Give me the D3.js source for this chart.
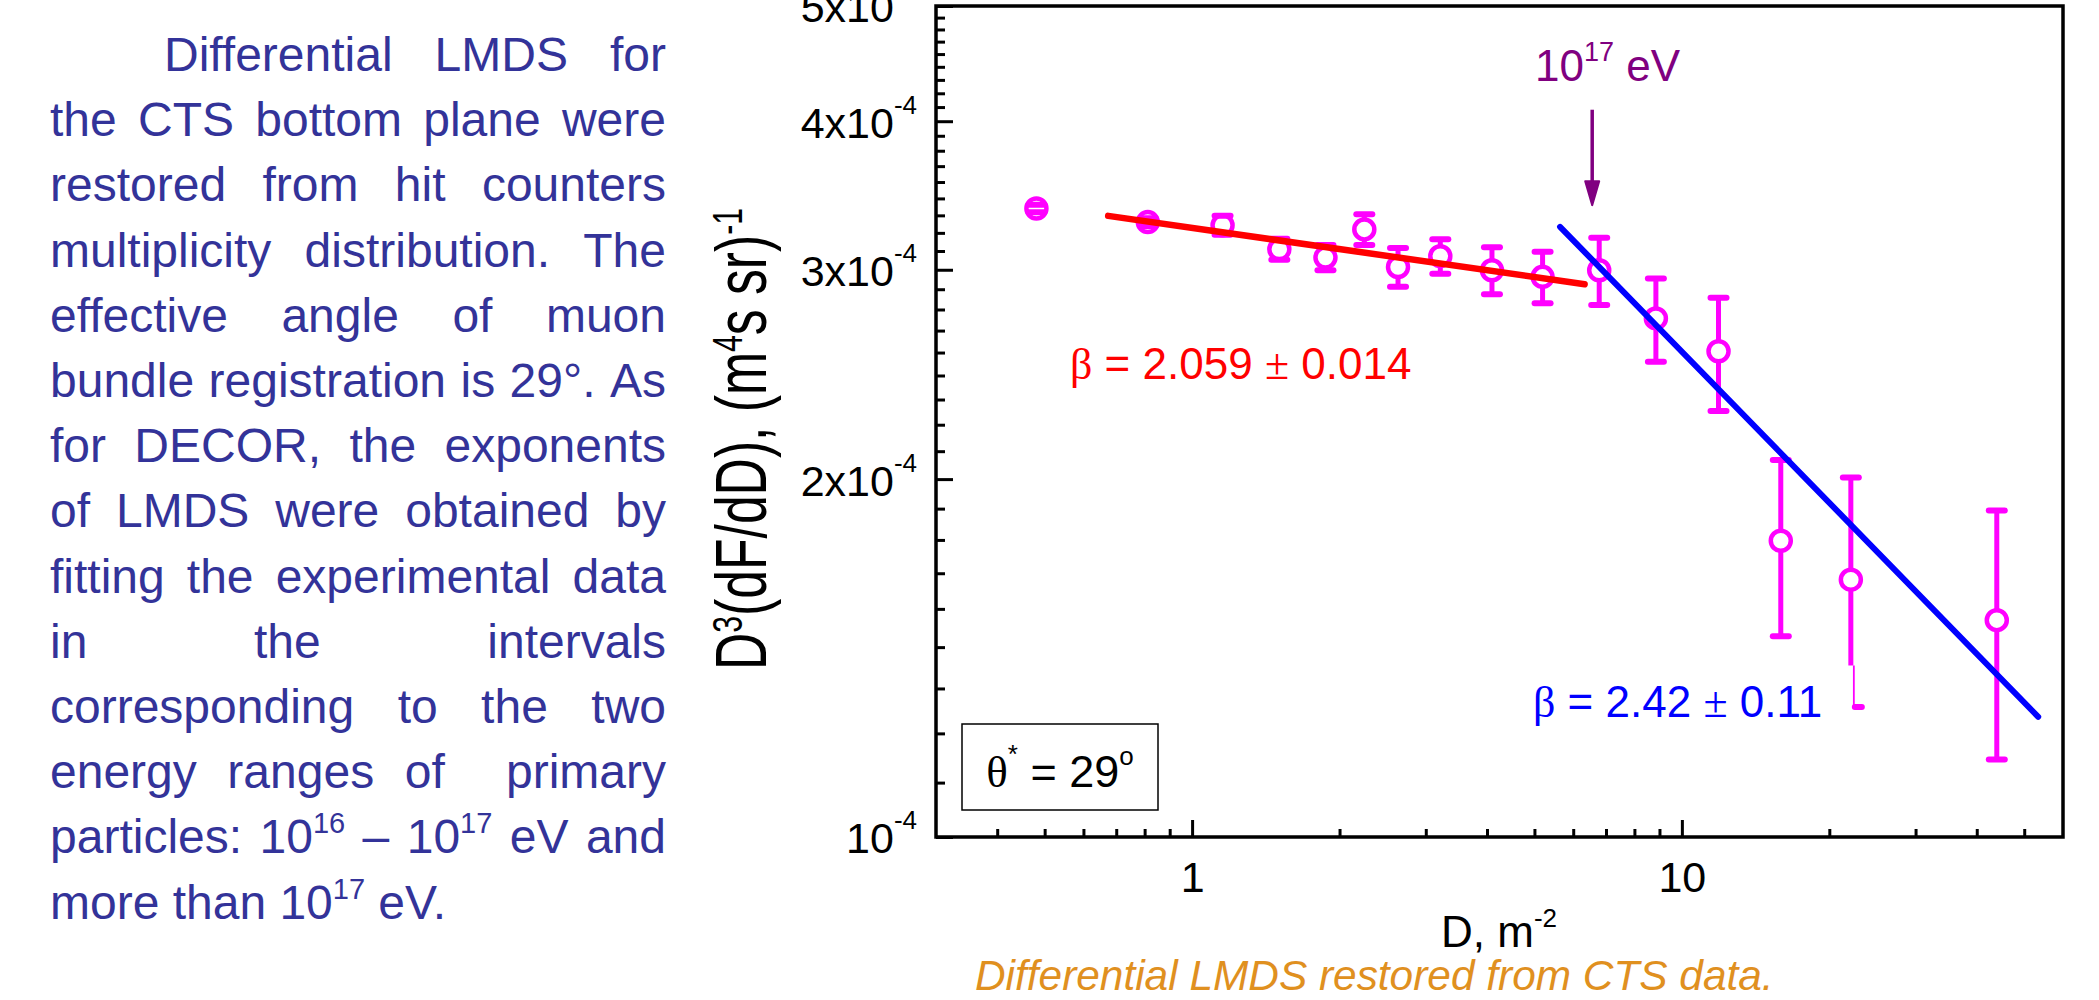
<!DOCTYPE html>
<html>
<head>
<meta charset="utf-8">
<script src="https://d3js.org/d3.v7.min.js"></script>
<style>
  body { margin: 0; background: #fff; }
  svg { display: block; font-family: "Liberation Sans", Arial, sans-serif; }
</style>
</head>
<body>
<svg id="chart" width="2099" height="1000"></svg>
<script>
// bin centres, D in m^-2
const densities = [0.481, 0.812, 1.154, 1.507, 1.872, 2.247, 2.633, 3.212, 4.095, 5.195, 6.78, 8.85, 11.88, 15.92, 22.13, 43.95];
// D^3 dF/dD, (m^4 s sr)^-1
const spectrum = [3.378e-4, 3.29e-4, 3.27e-4, 3.122e-4, 3.072e-4, 3.244e-4, 3.016e-4, 3.08e-4, 2.997e-4, 2.959e-4, 2.997e-4, 2.73e-4, 2.562e-4, 1.775e-4, 1.646e-4, 1.522e-4];
const spectrumErr = [0.025e-4, 0.025e-4, 0.06e-4, 0.064e-4, 0.075e-4, 0.096e-4, 0.113e-4, 0.103e-4, 0.136e-4, 0.147e-4, 0.195e-4, 0.22e-4, 0.28e-4, 0.30e-4, 0.36e-4, 0.36e-4];

// fitted power laws, end points [D, value]
const fitLow = [[0.674, 3.33e-4], [6.33, 2.917e-4]];
const fitHigh = [[5.64, 3.26e-4], [53.4, 1.262e-4]];

// 10^17 eV marker
const kneeD = 6.56;
const kneeArrow = [4.09e-4, 3.40e-4];

// the lower bar of one point is drawn broken in the original
const brokenBar = {index: 14, thickTo: 1.394e-4};

const xDomain = [0.3, 60];
const yDomain = [1e-4, 5e-4];
const xMajorTicks = [1, 10];
const xTickLabels = ['1', '10'];
const xMinorTicks = [0.4, 0.5, 0.6, 0.7, 0.8, 0.9, 2, 3, 4, 5, 6, 7, 8, 9, 20, 30, 40, 50];
const yTicks = [1e-4, 2e-4, 3e-4, 4e-4, 5e-4];
const yTickLabels = [['10', '-4'], ['2x10', '-4'], ['3x10', '-4'], ['4x10', '-4'], ['5x10', '-4']];

const paragraphLines = [
  'Differential LMDS for',
  'the CTS bottom plane were',
  'restored from hit counters',
  'multiplicity distribution. The',
  'effective angle of muon',
  'bundle registration is 29°. As',
  'for DECOR, the exponents',
  'of LMDS were obtained by',
  'fitting the experimental data',
  'in the intervals',
  'corresponding to the two',
  'energy ranges of  primary',
  'particles: 10^{16} – 10^{17} eV and',
  'more than 10^{17} eV.'
];

const MAGENTA = '#ff00ff', RED = '#ff0000', BLUE = '#0000ff', PURPLE = '#800080';
const W = 2099, H = 1000;
const plot = {left: 936, right: 2063, top: 6, bottom: 837};

const svg = d3.select('#chart');
svg.append('rect').attr('width', W).attr('height', H).attr('fill', '#fff');

const x = d3.scaleLog().domain(xDomain).range([plot.left, plot.right]);
const y = d3.scaleLog().domain(yDomain).range([plot.bottom, plot.top]);

// text with ^{...} superscripts
function richText(g, str, supSize, supShift) {
  const t = g.append('text');
  let raised = false;
  str.split(/(\^\{[^}]*\})/).forEach(p => {
    if (!p) return;
    if (p.startsWith('^{')) {
      t.append('tspan').attr('font-size', supSize).attr('dy', -supShift).text(p.slice(2, -1));
      raised = true;
    } else {
      const s = t.append('tspan').text(p);
      if (raised) { s.attr('dy', supShift); raised = false; }
    }
  });
  return t;
}

// ---- left paragraph, justified
const para = svg.append('g').attr('fill', '#333399').attr('font-size', 48);
const paraLeft = 50, paraRight = 666, paraIndent = 164;
paragraphLines.forEach((line, li) => {
  const baseY = 71 + li * 65.2;
  const words = [];
  let pending = 0;
  line.split(' ').forEach((tk, k) => {
    if (k > 0) pending++;
    if (tk === '') return;
    words.push({tk, sp: pending});
    pending = 0;
  });
  words.forEach(w => {
    w.el = richText(para, w.tk, 29, 20).attr('y', baseY);
    w.width = w.el.node().getComputedTextLength();
  });
  const start = li === 0 ? paraIndent : paraLeft;
  const nSp = d3.sum(words, w => w.sp);
  const last = li === paragraphLines.length - 1;
  const unit = last ? 13.3 : (paraRight - start - d3.sum(words, w => w.width)) / nSp;
  let cx = start;
  words.forEach(w => {
    cx += w.sp * unit;
    w.el.attr('x', cx);
    cx += w.width;
  });
});

// ---- axes
const gx = svg.append('g').attr('transform', `translate(0,${plot.bottom})`);
gx.call(d3.axisBottom(x).tickValues(xMajorTicks).tickSize(-17).tickSizeOuter(0)
  .tickPadding(24).tickFormat((d, i) => xTickLabels[i]));
gx.append('g').call(d3.axisBottom(x).tickValues(xMinorTicks).tickSize(-8).tickSizeOuter(0).tickFormat(''));

const yMinor = [];
for (let i = 0; i < yTicks.length - 1; i++) {
  const step = (yTicks[i + 1] - yTicks[i]) / 9;
  for (let k = 1; k <= 8; k++) yMinor.push(yTicks[i] + k * step);
}
const gy = svg.append('g').attr('transform', `translate(${plot.left},0)`);
gy.call(d3.axisLeft(y).tickValues(yTicks).tickSize(-17).tickSizeOuter(0).tickPadding(19).tickFormat(''));
gy.append('g').call(d3.axisLeft(y).tickValues(yMinor).tickSize(-9).tickSizeOuter(0).tickFormat(''));
gy.selectAll(':scope > .tick text').each(function(d, i) {
  const t = d3.select(this).attr('dy', '0.37em');
  t.append('tspan').text(yTickLabels[i][0]);
  t.append('tspan').attr('font-size', 26).attr('dy', -24).text(yTickLabels[i][1]);
});

[gx, gy].forEach(g => {
  g.attr('font-size', 43).attr('font-family', null);
  g.selectAll('.domain').remove();
  g.selectAll('.tick line').attr('stroke', '#000').attr('stroke-width', 3);
  g.selectAll('.tick text').attr('fill', '#000');
});

svg.append('rect')
  .attr('x', plot.left).attr('y', plot.top)
  .attr('width', plot.right - plot.left).attr('height', plot.bottom - plot.top)
  .attr('fill', 'none').attr('stroke', '#000').attr('stroke-width', 3.5);

// ---- data points with error bars
const pts = densities.map((d, i) => ({d, v: spectrum[i], e: spectrumErr[i], i}));
const r = 10, capHalf = 8;
const gp = svg.append('g').attr('stroke', MAGENTA).attr('stroke-linecap', 'round');

gp.selectAll('circle').data(pts).join('circle')
  .attr('cx', p => x(p.d)).attr('cy', p => y(p.v)).attr('r', r)
  .attr('fill', '#fff').attr('stroke-width', 4.5);

pts.forEach(p => {
  const cx = x(p.d), cy = y(p.v), yt = y(p.v + p.e), yb = y(p.v - p.e);
  if (yt < cy - r) gp.append('line').attr('x1', cx).attr('x2', cx).attr('y1', yt).attr('y2', cy - r).attr('stroke-width', 5).attr('stroke-linecap', 'butt');
  gp.append('line').attr('x1', cx - capHalf).attr('x2', cx + capHalf).attr('y1', yt).attr('y2', yt).attr('stroke-width', 6);
  if (p.i === brokenBar.index) {
    const yk = y(brokenBar.thickTo);
    gp.append('line').attr('x1', cx).attr('x2', cx).attr('y1', cy + r).attr('y2', yk).attr('stroke-width', 5).attr('stroke-linecap', 'butt');
    gp.append('line').attr('x1', cx + 3).attr('x2', cx + 3).attr('y1', yk).attr('y2', yb).attr('stroke-width', 1.8).attr('stroke-linecap', 'butt');
    gp.append('line').attr('x1', cx + 4).attr('x2', cx + 11).attr('y1', yb).attr('y2', yb).attr('stroke-width', 6);
    return;
  }
  if (yb > cy + r) gp.append('line').attr('x1', cx).attr('x2', cx).attr('y1', cy + r).attr('y2', yb).attr('stroke-width', 5).attr('stroke-linecap', 'butt');
  gp.append('line').attr('x1', cx - capHalf).attr('x2', cx + capHalf).attr('y1', yb).attr('y2', yb).attr('stroke-width', 6);
});

// ---- fits
const fitLine = d3.line().x(p => x(p[0])).y(p => y(p[1]));
svg.append('path').datum(fitLow).attr('d', fitLine)
  .attr('stroke', RED).attr('stroke-width', 6.5).attr('stroke-linecap', 'round').attr('fill', 'none');
svg.append('path').datum(fitHigh).attr('d', fitLine)
  .attr('stroke', BLUE).attr('stroke-width', 6).attr('stroke-linecap', 'round').attr('fill', 'none');

// ---- 10^17 eV arrow
const ax = x(kneeD), aTop = y(kneeArrow[0]), aTip = y(kneeArrow[1]);
svg.append('line').attr('x1', ax).attr('x2', ax).attr('y1', aTop).attr('y2', aTip - 15)
  .attr('stroke', PURPLE).attr('stroke-width', 3.5);
svg.append('path')
  .attr('d', `M${ax - 7},${aTip - 24} L${ax + 7},${aTip - 24} L${ax},${aTip} Z`)
  .attr('fill', PURPLE).attr('stroke', PURPLE).attr('stroke-width', 2).attr('stroke-linejoin', 'round');
const kneeLabel = svg.append('text').attr('x', 1535).attr('y', 81).attr('fill', PURPLE).attr('font-size', 44);
kneeLabel.append('tspan').text('10');
kneeLabel.append('tspan').attr('font-size', 27).attr('dy', -20).text('17');
kneeLabel.append('tspan').attr('dy', 20).text(' eV');

// ---- fit labels
function betaLabel(xp, yp, color, value, err) {
  const t = svg.append('text').attr('x', xp).attr('y', yp).attr('fill', color).attr('font-size', 44);
  t.append('tspan').attr('font-family', '"Liberation Serif", serif').text('β');
  t.append('tspan').text(' = ' + value + ' ');
  t.append('tspan').attr('font-family', '"Liberation Serif", serif').text('±');
  t.append('tspan').text(' ' + err);
}
betaLabel(1070, 379, RED, '2.059', '0.014');
betaLabel(1533, 717, BLUE, '2.42', '0.11');

// ---- theta box
svg.append('rect').attr('x', 962).attr('y', 724).attr('width', 196).attr('height', 86)
  .attr('fill', 'none').attr('stroke', '#000').attr('stroke-width', 1.5);
const th = svg.append('text').attr('x', 1060).attr('y', 787).attr('text-anchor', 'middle').attr('font-size', 45);
th.append('tspan').attr('font-family', '"Liberation Serif", serif').text('θ');
th.append('tspan').attr('font-size', 26).attr('dy', -24).text('*');
th.append('tspan').attr('dy', 24).text(' = 29');
th.append('tspan').attr('font-size', 26).attr('dy', -22).text('o');

// ---- axis titles
const xt = svg.append('text').attr('x', 1441).attr('y', 947).attr('font-size', 44);
xt.append('tspan').text('D, m');
xt.append('tspan').attr('font-size', 26).attr('dy', -20).text('-2');

// condensed, as in the original
const yt = svg.append('text').attr('transform', 'translate(766,439) rotate(-90)')
  .attr('text-anchor', 'middle').attr('font-size', 72)
  .attr('textLength', 462).attr('lengthAdjust', 'spacingAndGlyphs');
yt.append('tspan').text('D');
yt.append('tspan').attr('font-size', 42).attr('dy', -24).text('3');
yt.append('tspan').attr('dy', 24).text('(dF/dD), (m');
yt.append('tspan').attr('font-size', 42).attr('dy', -24).text('4');
yt.append('tspan').attr('dy', 24).text('s sr)');
yt.append('tspan').attr('font-size', 42).attr('dy', -24).text('-1');

// ---- caption
svg.append('text').attr('x', 975).attr('y', 990).attr('font-size', 42.4)
  .attr('font-style', 'italic').attr('fill', '#e0901f')
  .text('Differential LMDS restored from CTS data.');
</script>
</body>
</html>
